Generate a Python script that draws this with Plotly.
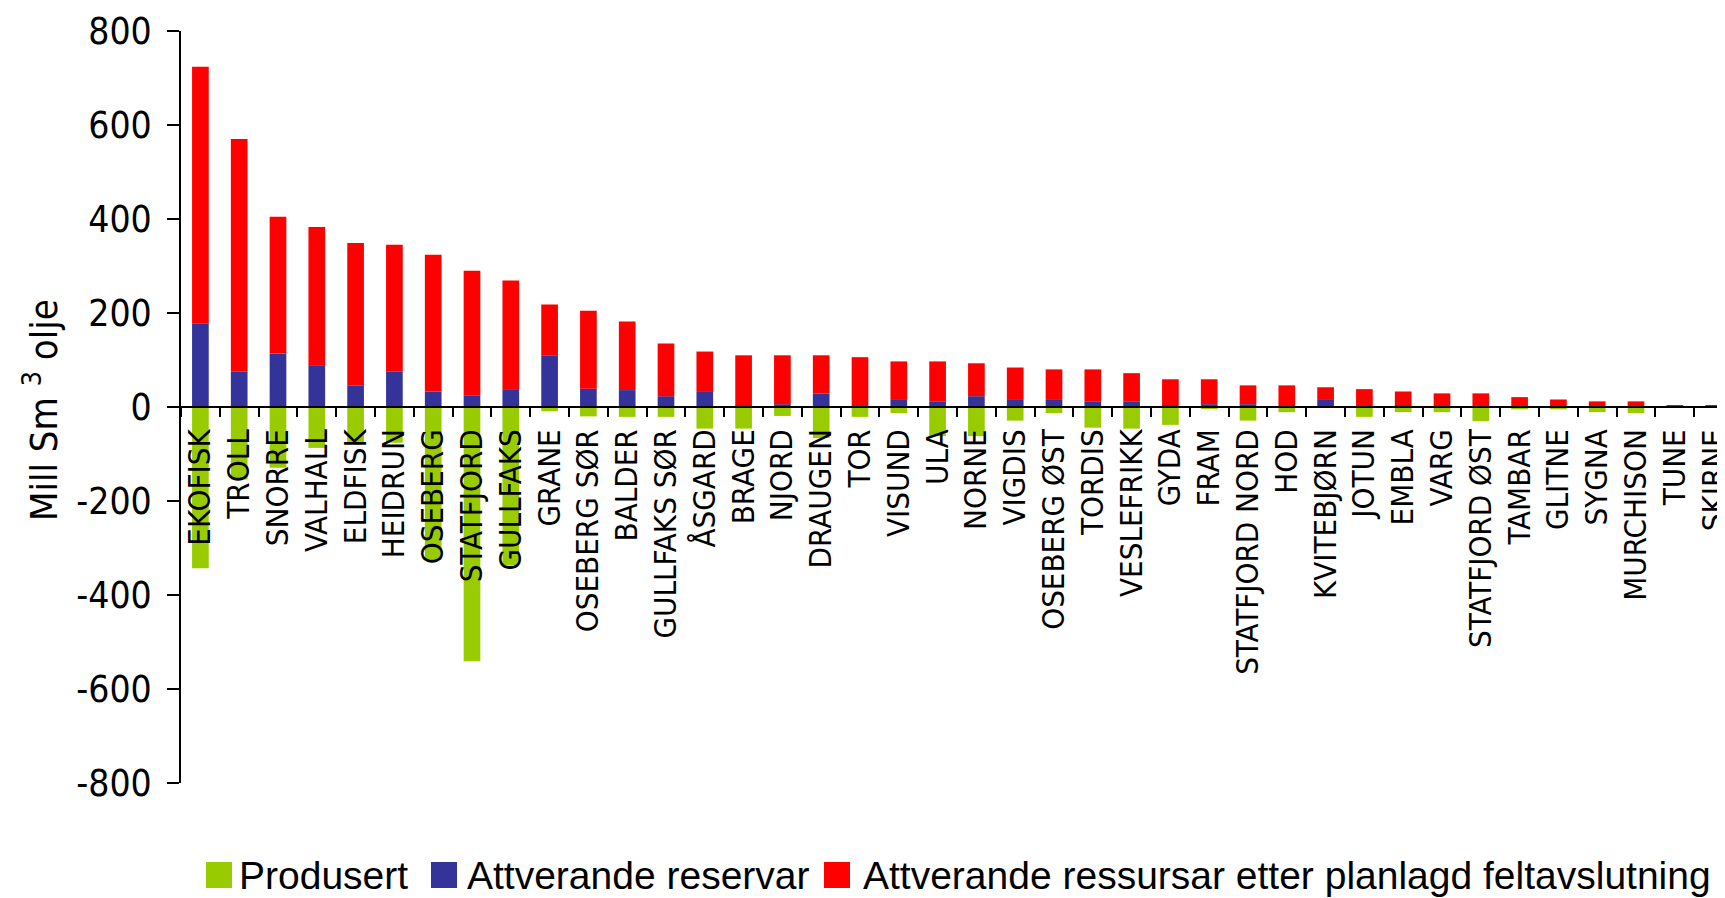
import plotly.graph_objects as go

fields = ["EKOFISK", "TROLL", "SNORRE", "VALHALL", "ELDFISK", "HEIDRUN", "OSEBERG",
          "STATFJORD", "GULLFAKS", "GRANE", "OSEBERG SØR", "BALDER", "GULLFAKS SØR",
          "ÅSGARD", "BRAGE", "NJORD", "DRAUGEN", "TOR", "VISUND", "ULA", "NORNE",
          "VIGDIS", "OSEBERG ØST", "TORDIS", "VESLEFRIKK", "GYDA", "FRAM",
          "STATFJORD NORD", "HOD", "KVITEBJØRN", "JOTUN", "EMBLA", "VARG",
          "STATFJORD ØST", "TAMBAR", "GLITNE", "SYGNA", "MURCHISON", "TUNE", "SKIRNE"]

# Produced (shown as negative values)
produsert = [-343, -154, -129, -87, -76, -76, -325, -541, -337, -9, -20, -21, -21,
             -46, -46, -19, -66, -21, -13, -62, -62, -29, -13, -44, -46, -38, -3.5,
             -29, -11, -1, -21, -11, -11, -30, -5, -5, -11, -13, 0, 0]

# Remaining reserves
reservar = [178, 76, 114, 89, 46, 76, 33, 25, 38, 110, 39, 36, 23, 32, 3.5, 6, 29,
            2, 15, 11, 23, 15, 15, 11, 11, 3.5, 6, 6, 1, 15, 2, 3.5, 2, 2, 0, 0, 1,
            0, 0, 0]

# Remaining resources after planned field closure (segment on top of reserves)
ressursar = [546, 494, 291, 294, 303, 269, 291, 265, 231, 108, 166, 146, 112, 86,
             106.5, 104, 81, 104, 82, 86, 70, 69, 65, 69, 61, 55.5, 53, 40, 45, 27,
             36, 29.5, 27, 27, 21, 16, 11, 12, 3.5, 3.5]

yticks = [800, 600, 400, 200, 0, -200, -400, -600, -800]
yticktext = ["800", "600", "400", "200", "0", "-200", "-400", "-600", "-800"]
ytitle = "Mill Sm <sup>3</sup> olje"

series = [("Produsert", produsert, "#99CC00"),
          ("Attverande reservar", reservar, "#333399"),
          ("Attverande ressursar etter planlagd feltavslutning", ressursar, "#FF0000")]

# the page body has an 8px margin; size the figure so that it fits the window
OFF = 8
W, H = 1725 - OFF, 898 - OFF
L, R, T, B = 181 - OFF, 0, 31 - OFF, 115
PW, PH = W - L - R, H - T - B

fig = go.Figure()
for name, vals, col in series:
    fig.add_trace(go.Bar(x=fields, y=vals, name=name, marker=dict(color=col, line=dict(width=0)),
                         width=0.43, showlegend=False))

cat_px = 38.8
xmax = -0.5 + PW / cat_px

narrow = "DejaVu Sans Condensed, DejaVu Sans, sans-serif"

fig.update_layout(
    width=W, height=H,
    margin=dict(l=L, r=R, t=T, b=B),
    barmode="relative",
    plot_bgcolor="white", paper_bgcolor="white",
    showlegend=False,
    xaxis=dict(type="category", range=[-0.5, xmax], anchor="free", position=0.5,
               showline=True, linecolor="black", linewidth=1.7,
               ticks="outside", tickson="boundaries", ticklen=9, tickwidth=1.7, tickcolor="black",
               tickangle=-90, tickfont=dict(family=narrow, size=31, color="black"),
               ticklabelstandoff=9,
               showgrid=False, zeroline=False, automargin=False, fixedrange=True),
    yaxis=dict(range=[-800, 800], tickmode="array", tickvals=yticks, ticktext=yticktext,
               showline=True, linecolor="black", linewidth=1.7,
               ticks="outside", ticklen=12, tickwidth=1.7, tickcolor="black",
               tickfont=dict(family=narrow, size=37, color="black"),
               ticklabelstandoff=8,
               showgrid=False, zeroline=False, automargin=False),
)

# positions in window pixels -> paper fractions
def px2x(px):
    return (px - OFF - L) / PW

def px2y(py):
    return (H - B - (py - OFF)) / PH

# Y-axis title
fig.add_annotation(xref="paper", yref="paper", x=px2x(41), y=px2y(410),
                   xanchor="center", yanchor="middle", textangle=-90, showarrow=False,
                   text=ytitle, font=dict(family=narrow, size=38, color="black"))

# Manual legend (large square keys like the reference)
legend_items = [(206, 237), (431, 465), (824, 861)]
for (sq_left, txt_left), (name, vals, col) in zip(legend_items, series):
    fig.add_shape(type="rect", xref="paper", yref="paper",
                  x0=px2x(sq_left), x1=px2x(sq_left + 26), y0=px2y(888), y1=px2y(862),
                  fillcolor=col, line=dict(width=0))
    fig.add_annotation(xref="paper", yref="paper", x=px2x(txt_left), y=px2y(875),
                       xanchor="left", yanchor="middle", showarrow=False, text=name,
                       font=dict(family="Liberation Sans, Arial, sans-serif", size=39, color="black"))

fig.write_html("out.html")
